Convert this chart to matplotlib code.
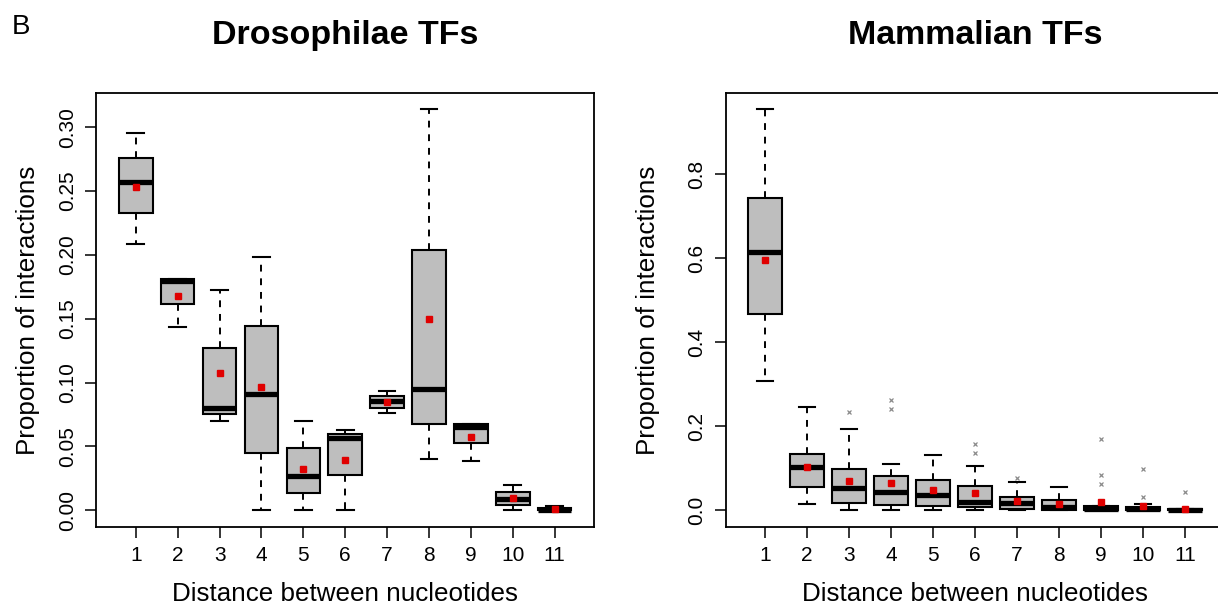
import numpy as np
import matplotlib
matplotlib.use('Agg')
import matplotlib.pyplot as plt

plt.rcParams['font.family'] = ['Liberation Sans', 'DejaVu Sans']

positions = list(range(1, 12))
tick_labels = [str(p) for p in positions]

# Drosophilae TFs
dros_lo = [0.2086, 0.1436, 0.0702, 0.0, 0.0, 0.0, 0.0765, 0.040, 0.0389, 0.0, 0.0]
dros_q1 = [0.2326, 0.1616, 0.0755, 0.0452, 0.0133, 0.0277, 0.0804, 0.0674, 0.0525, 0.0042, 0.0]
dros_med = [0.2570, 0.1794, 0.0802, 0.0909, 0.0269, 0.0564, 0.0856, 0.0948, 0.0655, 0.0089, 0.0005]
dros_q3 = [0.2760, 0.1810, 0.1269, 0.1446, 0.0486, 0.0598, 0.0896, 0.2042, 0.0679, 0.0141, 0.0020]
dros_hi = [0.2953, 0.1810, 0.1726, 0.1987, 0.0700, 0.0632, 0.0932, 0.3141, 0.0679, 0.0198, 0.0030]
dros_mean = [0.2535, 0.1680, 0.1078, 0.0966, 0.0324, 0.0397, 0.0849, 0.1496, 0.0574, 0.0094, 0.0010]
dros_fliers = [[] for _ in positions]

# Mammalian TFs
mam_lo = [0.309, 0.0151, 0.0, 0.0, 0.0, 0.0, 0.0, 0.0, 0.0, 0.0, 0.0]
mam_q1 = [0.467, 0.0548, 0.0167, 0.0119, 0.0095, 0.0071, 0.0030, 0.0, 0.0, 0.0, 0.0]
mam_med = [0.616, 0.1025, 0.0532, 0.0437, 0.0373, 0.0207, 0.0183, 0.0087, 0.004, 0.004, 0.0005]
mam_q3 = [0.743, 0.1335, 0.0985, 0.0818, 0.0731, 0.0580, 0.0326, 0.0246, 0.010, 0.0086, 0.003]
mam_hi = [0.956, 0.2455, 0.1930, 0.1096, 0.1327, 0.1065, 0.0667, 0.0548, 0.010, 0.0150, 0.003]
mam_mean = [0.595, 0.1040, 0.0700, 0.0650, 0.0477, 0.0421, 0.0230, 0.0150, 0.0205, 0.0100, 0.003]
mam_fliers = [[], [], [0.2328], [0.2407, 0.2614], [], [0.1358, 0.1570], [0.0763], [],
              [0.0627, 0.0840, 0.1690], [0.0310, 0.0977], [0.0430]]


def make_stats(lo, q1, med, q3, hi, mean, fliers):
    stats = []
    for i in range(len(med)):
        stats.append(dict(whislo=lo[i], q1=q1[i], med=med[i], q3=q3[i],
                          whishi=hi[i], mean=mean[i], fliers=fliers[i]))
    return stats


def draw_panel(ax, stats, ylim, yticks, ylabels, title, ylabel_x):
    ax.bxp(stats, positions=positions, widths=0.8, capwidths=0.4,
           patch_artist=True, showmeans=True, showfliers=True,
           boxprops=dict(facecolor='#bebebe', edgecolor='black', linewidth=1.5),
           whiskerprops=dict(color='black', linewidth=1.4, linestyle=(0, (3.5, 3.5))),
           capprops=dict(color='black', linewidth=1.5),
           medianprops=dict(color='black', linewidth=3.8, solid_capstyle='butt'),
           meanprops=dict(marker='s', markerfacecolor='#e00000',
                          markeredgecolor='#e00000', markersize=3.8),
           flierprops=dict(marker='x', markeredgecolor='#8a8a8a',
                           markersize=3, markeredgewidth=0.9))
    ax.set_xlim(0.06, 11.94)
    ax.set_ylim(*ylim)
    ax.set_xticks(positions, tick_labels)
    ax.set_yticks(yticks, ylabels, rotation=90, va='center')
    ax.tick_params(axis='both', length=8, width=1.1, labelsize=15, color='black')
    ax.tick_params(axis='x', pad=6)
    ax.tick_params(axis='y', pad=6)
    for sp in ax.spines.values():
        sp.set_linewidth(1.3)
    ax.set_xlabel('Distance between nucleotides', fontsize=18.7)
    ax.xaxis.set_label_coords(0.5, -0.127)
    ax.set_ylabel('Proportion of interactions', fontsize=18.7)
    ax.yaxis.set_label_coords(ylabel_x, 0.5)
    ax.set_title(title, fontsize=24.5, fontweight='bold', pad=35)


fig = plt.figure(figsize=(12.18, 6.13), dpi=100)
ax1 = fig.add_axes([0.0792, 0.1403, 0.4085, 0.708])
ax2 = fig.add_axes([0.5957, 0.1403, 0.4097, 0.708])

draw_panel(ax1, make_stats(dros_lo, dros_q1, dros_med, dros_q3, dros_hi, dros_mean, dros_fliers),
           (-0.0131, 0.3269), [0, 0.05, 0.10, 0.15, 0.20, 0.25, 0.30],
           ['0.00', '0.05', '0.10', '0.15', '0.20', '0.25', '0.30'],
           'Drosophilae TFs', -0.114)
draw_panel(ax2, make_stats(mam_lo, mam_q1, mam_med, mam_q3, mam_hi, mam_mean, mam_fliers),
           (-0.040, 0.994), [0, 0.2, 0.4, 0.6, 0.8],
           ['0.0', '0.2', '0.4', '0.6', '0.8'],
           'Mammalian TFs', -0.131)

fig.text(0.010, 1 - 34 / 613, 'B', fontsize=20, ha='left', va='baseline')

fig.savefig('out.png', dpi=100)
